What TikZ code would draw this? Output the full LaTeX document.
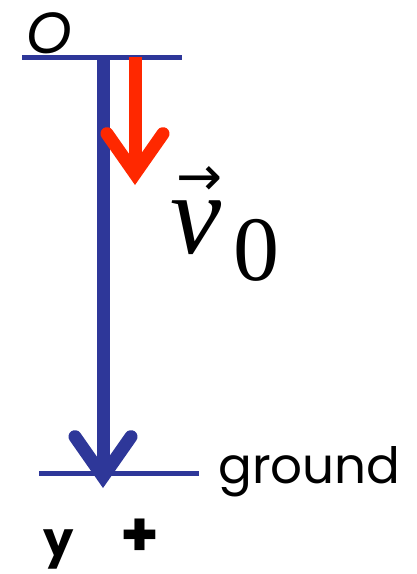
\documentclass[tikz,border=0pt]{standalone}
\usepackage{fontspec}
\setmainfont{Poppins}
\newfontfamily\timesv{Liberation Serif}
\newfontfamily\arrowfont{DejaVu Sans}
\usetikzlibrary{arrows.meta}
\definecolor{axisblue}{RGB}{46,55,153}
\definecolor{velred}{RGB}{255,40,0}

\begin{document}
\begin{tikzpicture}[x=1pt,y=-1pt,
 level/.style={draw=axisblue,line width=5pt},
 axisarrow/.style={draw=axisblue,line width=13pt,-{Straight Barb[length=40pt,width=56pt,line cap=round,line join=miter]}},
 velarrow/.style={draw=velred,line width=13pt,-{Straight Barb[length=40pt,width=56pt,line cap=round,line join=miter]}},
 lbl/.style={inner sep=0pt,anchor=base west}]
\useasboundingbox (0,0) rectangle (416,574);
% reference levels
\coordinate (topL) at (22,57);
\coordinate (topR) at (182,57);
\coordinate (gndL) at (39,473);
\coordinate (gndR) at (199,473);
\draw[level] (topL) -- (topR);
\draw[level] (gndL) -- (gndR);
% axis and initial velocity
\coordinate (axisstart) at (103,59);
\coordinate (axisend) at (103,488);
\coordinate (velstart) at (135,57);
\coordinate (velend) at (135,185);
\draw[axisarrow] (axisstart) -- (axisend);
\draw[velarrow] (velstart) -- (velend);
% labels
\node[lbl,font=\itshape\fontsize{58}{58}\selectfont] (origin) at (26,53) {O};
\node[lbl,font=\fontsize{50}{50}\selectfont] (ground) at (218,483) {ground};
\node[lbl,font=\bfseries\fontsize{48}{48}\selectfont] (yplus) at (43,556) {y\hspace{47pt}{\fontsize{62}{62}\selectfont+}};
\node[lbl,font=\timesv] (vel) at (170,253) {\fontsize{115}{115}\selectfont\rlap{\hspace{6pt}\raisebox{58pt}{\fontsize{55}{55}\selectfont\arrowfont →}}\itshape v\hspace{12pt}\upshape\raisebox{-27pt}{\fontsize{92}{92}\selectfont 0}};
\end{tikzpicture}
\end{document}
